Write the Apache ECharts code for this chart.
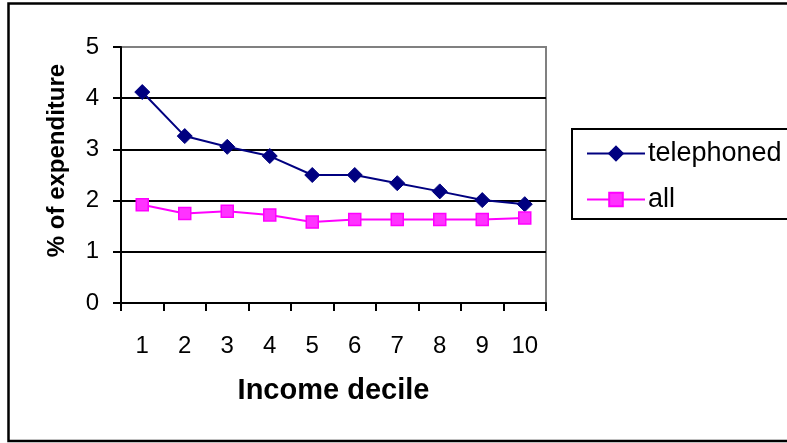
<!DOCTYPE html>
<html>
<head>
<meta charset="utf-8">
<script src="https://cdn.jsdelivr.net/npm/echarts@6/dist/echarts.min.js"></script>
<style>
html,body{margin:0;padding:0;background:#fff;}
#chart{width:787px;height:443px;}
</style>
</head>
<body>
<div id="chart"></div>
<script>
var categories = ['1','2','3','4','5','6','7','8','9','10'];
var telephoned = [4.12, 3.26, 3.05, 2.87, 2.50, 2.50, 2.34, 2.18, 2.01, 1.93];
var allHouseholds = [1.92, 1.75, 1.79, 1.72, 1.58, 1.63, 1.63, 1.63, 1.63, 1.66];
var seriesNames = ['telephoned', 'all'];
var yTicks = [0, 1, 2, 3, 4, 5];

var chart = echarts.init(document.getElementById('chart'), null, {renderer: 'canvas'});
var FONT = '"Liberation Sans", Arial, sans-serif';
chart.setOption({
  animation: false,
  backgroundColor: '#ffffff',
  graphic: [
    {type: 'rect', shape: {x: 8.5, y: 3.5, width: 820, height: 437.5}, style: {fill: 'none', stroke: '#000', lineWidth: 2.5}, z: 0, silent: true},
    {type: 'rect', shape: {x: 572, y: 129, width: 240, height: 90}, style: {fill: 'none', stroke: '#000', lineWidth: 2}, z: 0, silent: true}
  ],
  grid: {left: 121, right: 241, top: 47, bottom: 140, show: true, borderColor: '#808080', borderWidth: 2, backgroundColor: 'transparent'},
  legend: {
    orient: 'vertical',
    left: 581,
    top: 135,
    itemWidth: 58,
    itemHeight: 17,
    itemGap: 19,
    data: seriesNames,
    textStyle: {fontFamily: FONT, fontSize: 27, color: '#000', padding: [0,0,0,-2]}
  },
  xAxis: {
    type: 'category',
    data: categories,
    boundaryGap: true,
    axisLine: {lineStyle: {color: '#000', width: 2}},
    axisTick: {show: true, length: 8, alignWithLabel: false, lineStyle: {color: '#000', width: 2}},
    axisLabel: {fontFamily: FONT, fontSize: 24, color: '#000', margin: 31},
    name: 'Income decile',
    nameLocation: 'middle',
    nameGap: 73,
    nameTextStyle: {fontFamily: FONT, fontSize: 29, fontWeight: 'bold', color: '#000'}
  },
  yAxis: {
    type: 'value',
    min: yTicks[0],
    max: yTicks[yTicks.length - 1],
    interval: 1,
    axisLine: {show: true, lineStyle: {color: '#000', width: 2}},
    axisTick: {show: true, length: 8, lineStyle: {color: '#000', width: 2}},
    axisLabel: {fontFamily: FONT, fontSize: 24, color: '#000', margin: 22},
    splitLine: {show: true, lineStyle: {color: ['#000','#000','#000','#000','#000','#808080'], width: 2}},
    name: '% of expenditure',
    nameLocation: 'middle',
    nameGap: 52,
    nameRotate: 90,
    nameTextStyle: {fontFamily: FONT, fontSize: 24, fontWeight: 'bold', color: '#000', padding: [0, 0, 0, 29]}
  },
  series: [
    {
      name: seriesNames[0],
      type: 'line',
      data: telephoned,
      symbol: 'diamond',
      symbolSize: 15,
      color: '#000080',
      lineStyle: {color: '#000080', width: 2},
      itemStyle: {color: '#000080', borderColor: '#000080', borderWidth: 1}
    },
    {
      name: seriesNames[1],
      type: 'line',
      data: allHouseholds,
      symbol: 'rect',
      symbolSize: 12,
      color: '#FF00FF',
      lineStyle: {color: '#FF00FF', width: 2},
      itemStyle: {color: '#FF33FF', borderColor: '#FF00FF', borderWidth: 1.5}
    }
  ]
});
</script>
</body>
</html>
